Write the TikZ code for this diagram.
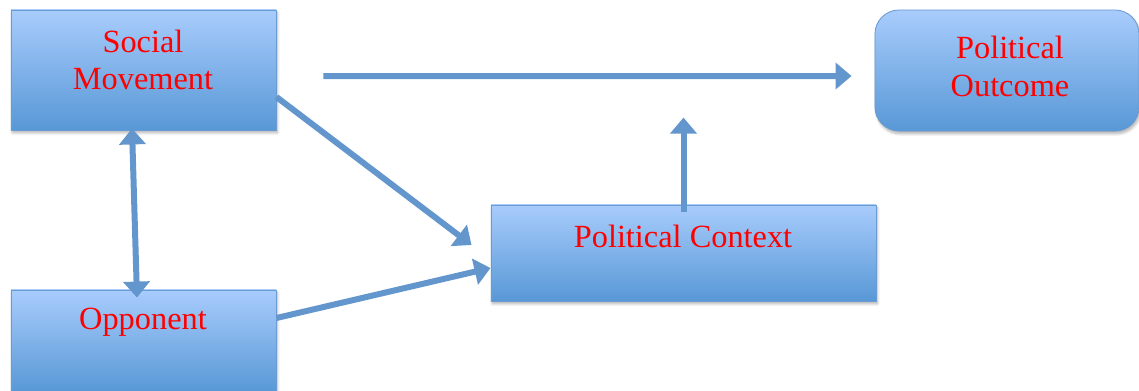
\documentclass[tikz,border=0pt]{standalone}
\usepackage{fontspec}
\setmainfont{Liberation Serif}
\usetikzlibrary{arrows.meta,calc,shadows.blur}

\definecolor{boxtop}{RGB}{168,204,252}
\definecolor{boxbot}{RGB}{88,152,214}
\definecolor{boxline}{RGB}{106,155,210}
\definecolor{linkcol}{RGB}{99,150,204}

\tikzset{
  box/.style={rectangle, draw=boxline, line width=0.6pt,
    top color=boxtop, bottom color=boxbot,
    blur shadow={shadow xshift=1pt, shadow yshift=-2pt, shadow blur steps=6, shadow opacity=30}},
  txt/.style={text=red, align=center, font=\fontsize{23}{26.5}\selectfont},
  tip/.tip={Triangle[width=0.65cm,length=0.4cm]},
  link/.style={linkcol, line width=0.15cm, -tip}
}

\begin{document}
\begin{tikzpicture}[x=0.025cm, y=-0.025cm]
  \useasboundingbox (0,0) rectangle (1139,390);

  % boxes
  \node[box, minimum width=6.625cm, minimum height=3cm] (sm) at (143.5,70) {};
  \node[box, rounded corners=0.6cm, minimum width=6.6cm, minimum height=3.025cm] (po) at (1007,70.5) {};
  \node[box, minimum width=9.625cm, minimum height=2.4cm] (pc) at (683.5,253) {};
  \node[box, minimum width=6.625cm, minimum height=2.55cm] (op) at (143.5,341) {};

  \node[txt] (smtxt) at (143,60) {Social\\Movement};
  \node[txt] (potxt) at (1010,66.5) {Political\\Outcome};
  \node[txt] (pctxt) at (683,236) {Political Context};
  \node[txt] (optxt) at (143,322) {Opponent};

  % arrows
  \draw[link] ($(sm.east)+(47,6)$) -- ($(po.west)+(-23,5.5)$);
  \draw[link] ($(sm.east)+(0,27)$) -- ($(pc.west)+(-19,-8)$);
  \draw[link] ($(op.east)+(0,-23)$) -- ($(pc.west)+(0,15)$);
  \draw[link] ($(pc.north)+(0,7)$) -- ($(pc.north)+(0,-87)$);
  \draw[link, tip-tip] ($(sm.south)+(-11.5,-2)$) -- ($(op.north)+(-6.5,8)$);
\end{tikzpicture}
\end{document}
